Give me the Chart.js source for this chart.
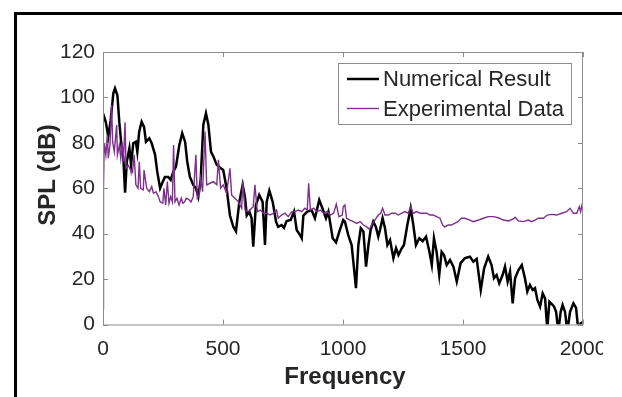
<!DOCTYPE html>
<html>
<head>
<meta charset="utf-8">
<script src="https://cdn.jsdelivr.net/npm/chart.js@4"></script>
<style>
  html, body { margin: 0; padding: 0; background: #fff; }
  body { width: 622px; height: 397px; position: relative; overflow: hidden; }
  #frame { position: absolute; left: 14px; top: 12px; width: 620px; height: 400px;
           border-left: 3px solid #000; border-top: 3px solid #000; }
  #wrap { position: absolute; left: 0; top: 0; width: 603px; height: 397px; overflow: hidden; }
  canvas { display: block; }
</style>
</head>
<body>
<div id="frame"></div>
<div id="wrap"><canvas id="splChart" width="622" height="397"></canvas></div>
<script>
// numerical result (black)
const freqNum = [0, 4, 12, 22, 32, 43, 50, 60, 68, 78, 85, 92, 99, 110, 117, 126, 137, 143, 151, 161, 171, 179, 193, 203, 217, 226, 238, 249, 258, 272, 282, 293, 304, 318, 330, 342, 351, 362, 376, 387, 397, 407, 418, 429, 439, 450, 460, 474, 488, 501, 515, 529, 543, 554, 568, 582, 592, 599, 610, 619, 626, 637, 651, 665, 675, 682, 693, 707, 721, 730, 744, 754, 765, 782, 796, 807, 821, 828, 835, 851, 869, 883, 901, 915, 929, 939, 957, 971, 985, 1001, 1008, 1022, 1036, 1043, 1054, 1064, 1074, 1085, 1096, 1106, 1115, 1126, 1137, 1147, 1154, 1165, 1175, 1185, 1196, 1210, 1221, 1231, 1245, 1254, 1268, 1282, 1293, 1304, 1318, 1332, 1346, 1360, 1370, 1379, 1390, 1401, 1411, 1421, 1432, 1446, 1460, 1474, 1490, 1508, 1529, 1543, 1557, 1574, 1588, 1605, 1619, 1629, 1640, 1651, 1665, 1675, 1686, 1696, 1707, 1717, 1731, 1745, 1758, 1768, 1779, 1790, 1800, 1810, 1821, 1832, 1842, 1851, 1860, 1870, 1879, 1888, 1897, 1907, 1915, 1925, 1935, 1946, 1960, 1971, 1981, 1990, 1999];
const splNum = [93, 93, 89, 82.7, 90, 101.8, 104, 101, 89, 77.6, 73, 58, 71.7, 77.6, 70.3, 79.8, 80.5, 76, 85, 89.3, 87, 80.5, 82, 79.8, 74.7, 67.3, 60, 62.9, 65, 65, 63.7, 67.3, 69.5, 79, 84.2, 80.5, 71.7, 65, 61.5, 60, 56.3, 63.7, 88, 93, 88, 76, 74, 70.3, 69, 68, 60, 48, 43, 41, 54, 61.5, 55.6, 48, 49.7, 46.8, 34.3, 52.6, 57, 54, 35, 54, 59, 54, 45.3, 43, 43.8, 42.6, 45.6, 46, 49.7, 41.6, 39.4, 38, 48, 49.7, 50.4, 46.8, 54.8, 51, 46.8, 49.7, 38, 36.2, 41, 46, 45.3, 39.4, 35, 27.7, 16, 35, 42.4, 41, 25.5, 35, 41.6, 45.3, 43, 38.7, 41.6, 46.8, 42.4, 35, 37.2, 29.2, 33.6, 30.6, 33.6, 35, 43.8, 51.2, 43.8, 35, 38, 36.7, 38.7, 32, 26.2, 38, 32, 21.8, 32, 30.6, 26.2, 28.4, 25.5, 18.9, 27, 29.2, 29.9, 27.7, 28.9, 15.2, 24.7, 29.9, 26.2, 20.4, 21.8, 18.1, 21.8, 25.5, 18.9, 23.3, 9.3, 20.4, 24, 26.2, 20.4, 14.5, 17.4, 15.2, 16, 10.8, 7.9, 13.7, 11.5, -2, 10, 9, 8, 5.6, -3, 5.6, 8.6, 5.6, -3, 5.6, 9.3, 7.3, -3, 0.5, 1];

// experimental data (purple)
const freqExp = [0, 2, 5, 12, 18, 22, 29, 36, 40, 47, 57, 60, 68, 74, 80, 85, 92, 96, 106, 115, 123, 130, 137, 146, 151, 157, 168, 171, 182, 193, 203, 210, 221, 231, 238, 249, 254, 261, 268, 275, 282, 289, 294, 300, 308, 317, 326, 333, 340, 347, 358, 367, 376, 387, 393, 401, 407, 415, 425, 432, 446, 460, 474, 481, 490, 501, 515, 529, 536, 550, 564, 578, 582, 592, 606, 619, 626, 633, 643, 657, 668, 682, 696, 710, 723, 730, 744, 758, 772, 786, 800, 814, 828, 841, 851, 857, 864, 878, 892, 906, 919, 933, 947, 961, 972, 983, 997, 1001, 1008, 1015, 1029, 1043, 1057, 1071, 1085, 1099, 1110, 1119, 1133, 1147, 1157, 1165, 1175, 1189, 1203, 1217, 1231, 1245, 1258, 1272, 1282, 1293, 1307, 1321, 1335, 1349, 1363, 1376, 1390, 1404, 1415, 1424, 1438, 1451, 1465, 1479, 1493, 1508, 1529, 1543, 1564, 1585, 1605, 1626, 1647, 1668, 1689, 1710, 1717, 1731, 1751, 1772, 1786, 1800, 1814, 1835, 1851, 1870, 1890, 1911, 1932, 1946, 1960, 1974, 1985, 1990, 1996, 2000];
const splExp = [7, 60, 80, 74.7, 83.5, 73.2, 79, 96.7, 80.5, 76.1, 87.9, 74.7, 79, 73.2, 80, 71.7, 89, 68.8, 70, 68, 67, 74.7, 61.5, 60, 71.7, 60, 59.3, 68, 60, 58.5, 60.7, 57.8, 58.5, 56.3, 54, 53.4, 60, 52.6, 62.9, 53.4, 56.3, 54, 79, 54, 55.6, 52.6, 55.6, 53.4, 54, 55.6, 55, 54, 56.3, 74.7, 55.6, 57, 64.4, 58.5, 85, 61.5, 62.2, 62.9, 61.5, 72.5, 60, 61.5, 57.8, 68.8, 57, 55.6, 54, 51.2, 62.9, 50.4, 49.7, 51.2, 51.9, 61.5, 49.7, 50.4, 49, 49, 48.2, 49, 50.4, 46.8, 48.2, 49, 47.5, 49.7, 49.7, 50.4, 49.7, 51.2, 50.4, 62.2, 50.4, 51.2, 49.7, 50.4, 49, 49.7, 48.2, 49, 53, 47.5, 48.2, 51.9, 52.6, 46.8, 46, 45.3, 44.5, 45.3, 43.8, 43, 42, 43.8, 46, 48.2, 49, 51.2, 48.2, 48.2, 49, 49, 48.2, 49, 49.7, 49, 51.9, 49, 49.7, 49, 49, 49, 48.2, 48.2, 47.5, 46.8, 43.8, 43, 43.8, 43.8, 44.5, 45.3, 46.8, 46.8, 46, 45.3, 46, 46.8, 47.5, 47.5, 47, 46, 45.6, 46.5, 47.2, 45.6, 45.3, 46, 45.3, 46, 46.8, 46.8, 48.2, 48.5, 48.2, 49, 49.7, 51.2, 49, 49, 51.9, 49.7, 52.6, 49.7];

const xTickValues = [0, 500, 1000, 1500, 2000];
const yTickValues = [0, 20, 40, 60, 80, 100, 120];

const axisGray = '#8c8c8c';
const textColor = '#262626';
const family = '"Liberation Sans", Arial, sans-serif';

const matlabAxes = {
    id: 'matlabAxes',
    afterDraw(chart) {
        const { ctx, chartArea: a, scales } = chart;
        ctx.save();
        // axes box
        ctx.strokeStyle = axisGray;
        ctx.lineWidth = 1;
        ctx.beginPath();
        ctx.rect(a.left + 0.5, a.top + 0.5, a.right - a.left - 1, a.bottom - a.top);
        ctx.stroke();
        // inward tick marks
        ctx.beginPath();
        xTickValues.forEach(v => {
            const px = Math.round(scales.x.getPixelForValue(v)) + 0.5;
            ctx.moveTo(px, a.bottom); ctx.lineTo(px, a.bottom - 5);
            ctx.moveTo(px, a.top); ctx.lineTo(px, a.top + 5);
        });
        yTickValues.forEach(v => {
            const py = Math.round(scales.y.getPixelForValue(v)) + 0.5;
            ctx.moveTo(a.left, py); ctx.lineTo(a.left + 5, py);
            ctx.moveTo(a.right, py); ctx.lineTo(a.right - 5, py);
        });
        ctx.stroke();

        // axis titles
        ctx.fillStyle = textColor;
        ctx.font = 'bold 24px ' + family;
        ctx.textAlign = 'center';
        ctx.textBaseline = 'middle';
        ctx.fillText('Frequency', 345, 377);
        ctx.save();
        ctx.translate(48.5, 175);
        ctx.rotate(-Math.PI / 2);
        ctx.fillText('SPL (dB)', 0, 0);
        ctx.restore();

        // legend
        ctx.fillStyle = '#fff';
        ctx.fillRect(338, 63, 234, 61.5);
        ctx.strokeStyle = axisGray;
        ctx.strokeRect(338.5, 63.5, 233, 61);
        const rows = [79, 108.5];
        ctx.font = '22px ' + family;
        ctx.textAlign = 'left';
        chart.data.datasets.forEach((ds, i) => {
            ctx.strokeStyle = ds.borderColor;
            ctx.lineWidth = ds.borderWidth;
            ctx.beginPath();
            ctx.moveTo(347, rows[i]);
            ctx.lineTo(379, rows[i]);
            ctx.stroke();
            ctx.fillStyle = textColor;
            ctx.fillText(ds.label, 383, rows[i] + 1);
        });
        ctx.restore();
    }
};

const ctx = document.getElementById('splChart').getContext('2d');
new Chart(ctx, {
    type: 'line',
    data: {
        datasets: [{
            label: 'Numerical Result',
            data: freqNum.map((f, i) => ({ x: f, y: splNum[i] })),
            borderColor: '#000000',
            borderWidth: 2.5,
            pointRadius: 0,
            order: 1
        }, {
            label: 'Experimental Data',
            data: freqExp.map((f, i) => ({ x: f, y: splExp[i] })),
            borderColor: '#7E2F8E',
            borderWidth: 1.4,
            pointRadius: 0,
            order: 0
        }]
    },
    options: {
        responsive: false,
        animation: false,
        layout: { padding: { left: 0, top: 52, right: 39, bottom: 0 } },
        plugins: { legend: { display: false }, tooltip: { enabled: false } },
        scales: {
            x: {
                type: 'linear',
                min: 0,
                max: 2000,
                grid: { display: false, drawTicks: false },
                border: { display: false },
                ticks: { color: textColor, font: { family: family, size: 21 }, padding: 12, maxRotation: 0,
                         callback: v => String(v) },
                afterBuildTicks: s => { s.ticks = xTickValues.map(v => ({ value: v })); },
                afterFit: s => { s.height = 72.5; }
            },
            y: {
                min: 0,
                max: 120,
                grid: { display: false, drawTicks: false },
                border: { display: false },
                ticks: { color: textColor, font: { family: family, size: 21 }, padding: 8,
                         callback: v => String(v) },
                afterBuildTicks: s => { s.ticks = yTickValues.map(v => ({ value: v })); },
                afterFit: s => { s.width = 103; }
            }
        }
    },
    plugins: [matlabAxes]
});
</script>
</body>
</html>
